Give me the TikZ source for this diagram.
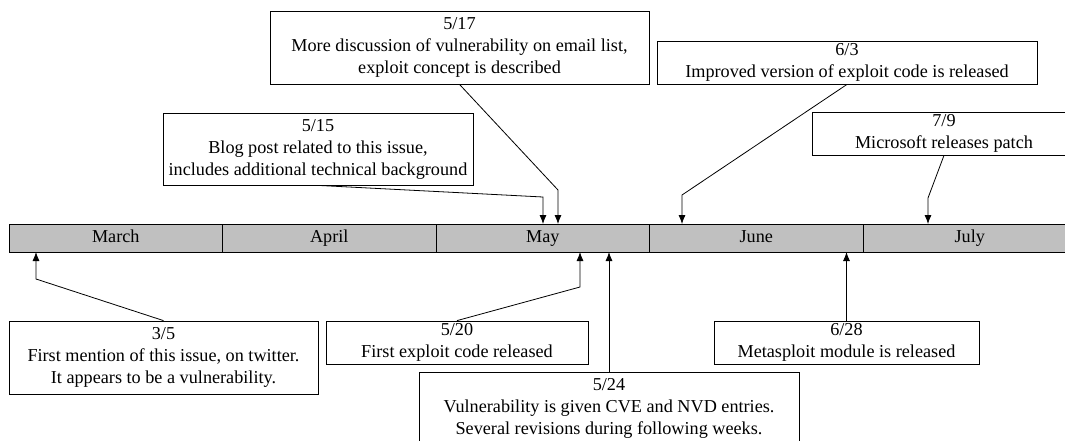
\documentclass[tikz,border=0pt]{standalone}
\usepackage{fontspec}
\setmainfont{Liberation Serif}
\usetikzlibrary{positioning,arrows.meta}
\definecolor{barfill}{RGB}{192,192,192}
\tikzset{%
    month/.style={draw, fill=barfill, minimum width=213.5pt, minimum height=28pt,
    	inner sep=0pt, outer sep=0pt, text height=12pt, text depth=4pt},
    event/.style={draw, fill=white, align=center, inner sep=0pt},
    pointer/.style={-{Latex[length=9pt,width=7pt]}}
}

\begin{document}
\begin{tikzpicture}[x=1pt, y=-1pt, line width=0.8pt,
    font=\fontsize{18.2}{22}\selectfont]
  \clip (0,0) rectangle (1065,440);

  % the months
  \node (mar) [month] at (115.75,238) {March};
  \node (apr) [month, right=0pt of mar] {April};
  \node (may) [month, right=0pt of apr] {May};
  \node (jun) [month, right=0pt of may] {June};
  \node (jul) [month, right=0pt of jun] {July};

  % events above
  \node (e515) [event, minimum width=310pt, minimum height=72pt] at (318,149)
    {5/15\\Blog post related to this issue,\\includes additional technical background};
  \node (e517) [event, minimum width=379pt, minimum height=73pt] at (459.5,47.5)
    {5/17\\More discussion of vulnerability on email list,\\exploit concept is described};
  \node (e63) [event, minimum width=380pt, minimum height=43pt] at (847,62.5)
    {6/3\\Improved version of exploit code is released};
  \node (e79) [event, minimum width=264pt, minimum height=43pt] at (944,133.5)
    {7/9\\Microsoft releases patch};

  % events below
  \node (e35) [event, minimum width=309pt, minimum height=73pt] at (163.5,357.5)
    {3/5\\First mention of this issue, on twitter.\\It appears to be a vulnerability.};
  \node (e520) [event, minimum width=262pt, minimum height=43pt] at (457,342.5)
    {5/20\\First exploit code released};
  \node (e524) [event, minimum width=380pt, minimum height=73pt] at (609,408.5)
    {5/24\\Vulnerability is given CVE and NVD entries.\\Several revisions during following weeks.};
  \node (e628) [event, minimum width=265pt, minimum height=43pt] at (846.5,342.5)
    {6/28\\Metasploit module is released};

  % bends of the pointers
  \coordinate (k515) at (543,197);
  \coordinate (k517) at (558,190);
  \coordinate (k63) at (682,195);
  \coordinate (k79) at (928,198);
  \coordinate (k35) at (36,279);
  \coordinate (k520) at (580,287);

  \draw [pointer] (e515.south) -- (k515) -- (k515 |- may.north);
  \draw [pointer] (e517.south) -- (k517) -- (k517 |- may.north);
  \draw [pointer] (e63.south) -- (k63) -- (k63 |- jun.north);
  \draw [pointer] (e79.south) -- (k79) -- (k79 |- jul.north);
  \draw [pointer] (e35.north) -- (k35) -- (k35 |- mar.south);
  \draw [pointer] (e520.north) -- (k520) -- (k520 |- may.south);
  \draw [pointer] (e524.north) -- (e524.north |- may.south);
  \draw [pointer] (e628.north) -- (e628.north |- jun.south);
\end{tikzpicture}
\end{document}
